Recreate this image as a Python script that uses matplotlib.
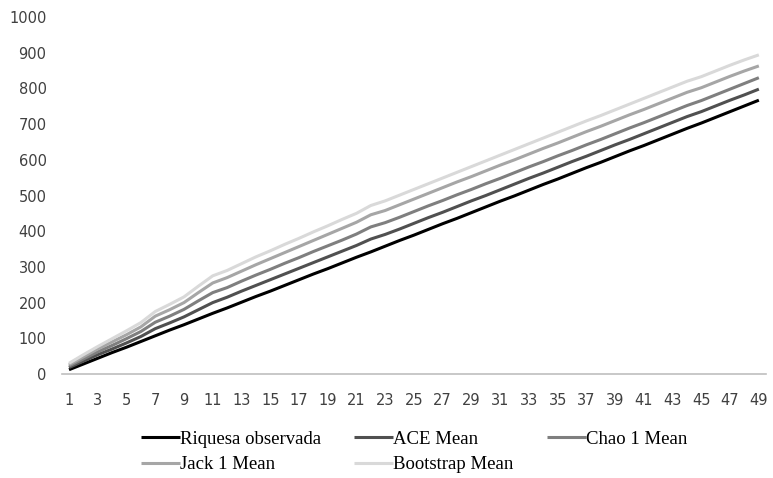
import matplotlib.pyplot as plt

amostras = list(range(1, 50))

riqueza_obs = [12, 28, 44, 60, 75, 91, 107, 123, 138, 154, 170, 185, 201, 217, 232, 248, 264,
               280, 295, 311, 327, 342, 358, 374, 389, 405, 421, 436, 452, 468, 484, 499, 515,
               531, 546, 562, 578, 593, 609, 625, 640, 656, 672, 688, 703, 719, 735, 751, 767]
ace_mean = [18, 36, 54, 70, 87, 105, 127, 143, 160, 180, 200, 215, 232, 248, 264, 280, 296,
            312, 328, 344, 360, 378, 391, 406, 422, 438, 453, 469, 485, 500, 516, 532, 548,
            563, 579, 595, 610, 626, 642, 657, 673, 689, 705, 721, 735, 751, 767, 782, 798]
chao1_mean = [22, 42, 62, 80, 99, 119, 145, 162, 181, 205, 228, 242, 260, 277, 293, 310, 326,
              343, 359, 375, 392, 412, 424, 439, 455, 471, 486, 502, 517, 533, 548, 564, 580,
              595, 611, 626, 642, 657, 673, 689, 704, 720, 736, 752, 766, 782, 798, 814, 830]
jack1_mean = [26, 48, 70, 90, 110, 132, 162, 180, 200, 228, 255, 270, 288, 306, 323, 340, 357,
              374, 391, 408, 425, 446, 458, 474, 490, 506, 522, 538, 553, 569, 585, 600, 616,
              632, 647, 663, 679, 694, 710, 726, 741, 757, 773, 789, 802, 818, 834, 849, 863]
bootstrap_mean = [30, 54, 77, 99, 121, 144, 175, 195, 216, 246, 275, 290, 309, 328, 345, 363, 380,
                  398, 415, 433, 450, 472, 485, 501, 517, 533, 549, 565, 581, 597, 613, 629, 645,
                  661, 677, 693, 709, 724, 740, 756, 772, 788, 804, 820, 833, 849, 865, 880, 894]

nomes = ['Riquesa observada', 'ACE Mean', 'Chao 1 Mean', 'Jack 1 Mean', 'Bootstrap Mean']
cores = ['#000000', '#505050', '#7f7f7f', '#a6a6a6', '#d9d9d9']

fig = plt.figure(figsize=(7.73, 4.78), dpi=100)
ax = fig.add_axes([0.080, 0.2176, 0.911, 0.7468])

series = [riqueza_obs, ace_mean, chao1_mean, jack1_mean, bootstrap_mean]
linhas = []
for nome, cor, y in zip(nomes, cores, series):
    l, = ax.plot(amostras, y, color=cor, lw=2.2, label=nome, solid_capstyle='butt')
    linhas.append(l)

ax.set_xlim(0.5, 49.5)
ax.set_ylim(0, 1000)
ax.set_xticks(amostras[::2])
ax.set_yticks(range(0, 1001, 100))
ax.tick_params(length=0, labelsize=10.5, labelcolor='#404040')
ax.tick_params(axis='x', pad=14)
ax.tick_params(axis='y', pad=11)
for s in ['top', 'right', 'left']:
    ax.spines[s].set_visible(False)
ax.spines['bottom'].set_color('#bfbfbf')
ax.spines['bottom'].set_linewidth(1.2)

# legenda preenchida por linha (3 colunas)
ordem = [0, 3, 1, 4, 2]
fig.legend(handles=[linhas[i] for i in ordem], loc='upper left', bbox_to_anchor=(0.170, 0.119),
           ncol=3, frameon=False, prop={'family': 'Liberation Serif', 'size': 13.5},
           handlelength=2.1, handletextpad=0.0, columnspacing=1.75,
           borderpad=0, labelspacing=0.45)

fig.savefig('out.png', dpi=100)
